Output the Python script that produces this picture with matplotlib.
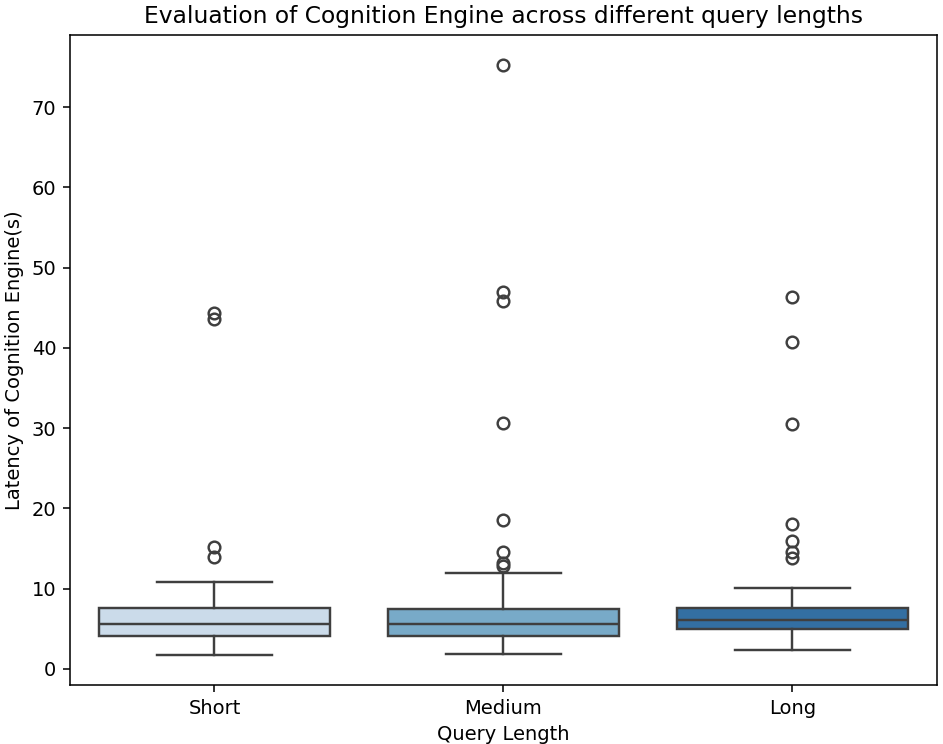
import matplotlib
matplotlib.use("Agg")
import matplotlib.pyplot as plt
import seaborn as sns

categories = ["Short", "Medium", "Long"]

# box statistics (seconds)
whislo = [1.7, 1.9, 2.4]
q1 = [4.15, 4.15, 5.0]
med = [5.55, 5.55, 6.1]
q3 = [7.65, 7.5, 7.65]
whishi = [10.8, 11.9, 10.1]
outliers = [
    [13.9, 15.2, 43.6, 44.4],
    [12.8, 13.2, 14.6, 18.6, 30.6, 45.9, 47.0, 75.3],
    [13.8, 14.6, 15.9, 18.0, 30.5, 40.7, 46.3],
]

colors = sns.color_palette("Blues", 3)
colors = [sns.desaturate(c, 0.75) for c in colors]
line_col = "#3f3f3f"

stats = []
for i in range(len(categories)):
    stats.append({"whislo": whislo[i], "q1": q1[i], "med": med[i], "q3": q3[i],
                  "whishi": whishi[i], "fliers": outliers[i], "label": categories[i]})

DPI = 140
fig, ax = plt.subplots(figsize=(943 / DPI, 744 / DPI), dpi=DPI)
lw = 1.25
bp = ax.bxp(stats, positions=range(len(categories)), widths=0.8, patch_artist=True,
            boxprops=dict(edgecolor=line_col, linewidth=lw),
            medianprops=dict(color=line_col, linewidth=lw),
            whiskerprops=dict(color=line_col, linewidth=lw),
            capprops=dict(color=line_col, linewidth=lw),
            flierprops=dict(marker="o", markerfacecolor="none", markeredgecolor=line_col,
                            markersize=6, markeredgewidth=lw),
            capwidths=0.4)
for patch, c in zip(bp["boxes"], colors):
    patch.set_facecolor(c)

ax.set_xlim(-0.5, 2.5)
ax.set_ylim(-2, 79)
ax.set_xticks(range(len(categories)))
ax.set_xticklabels(categories)
ax.set_xlabel("Query Length")
ax.set_ylabel("Latency of Cognition Engine(s)")
ax.set_title("Evaluation of Cognition Engine across different query lengths", fontsize=12)

fig.subplots_adjust(left=0.0742, right=0.9936, top=0.953, bottom=0.0793)
fig.savefig("out.png", dpi=DPI)
